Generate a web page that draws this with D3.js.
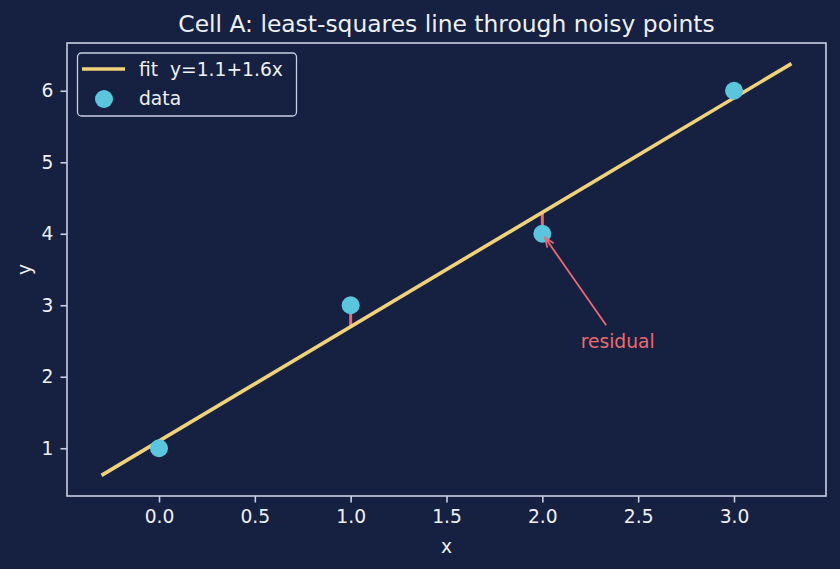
<!DOCTYPE html>
<html>
<head>
<meta charset="utf-8">
<script src="https://cdn.jsdelivr.net/npm/d3@7"></script>
<style>
  html, body { margin: 0; padding: 0; background: #162040; }
  svg { display: block; }
  text { font-family: "DejaVu Sans", sans-serif; }
</style>
</head>
<body>
<svg id="chart" width="840" height="569"></svg>
<script>
// data
const xs = [0, 1, 2, 3]
const ys = [1, 3, 4, 6]
const fitEnds = [-0.3, 3.3]
const xTicks = [0.0, 0.5, 1.0, 1.5, 2.0, 2.5, 3.0]
const yTicks = [1, 2, 3, 4, 5, 6]
const annotPoint = [2, 4]
const annotText = [2.2, 2.4]

const bg = '#162040', fg = '#eef1f8', spine = '#c9cfe3'
const yellow = '#f0d27a', cyan = '#5bc5de', red = '#ea6a72'
const fs = 18.7

// least squares
const mx = d3.mean(xs), my = d3.mean(ys)
const slope = d3.sum(xs, (x, i) => (x - mx) * (ys[i] - my)) / d3.sum(xs, x => (x - mx) ** 2)
const icpt = my - slope * mx
const f = x => icpt + slope * x

const svg = d3.select('#chart')
svg.append('rect').attr('width', 840).attr('height', 569).attr('fill', bg)

const pL = 67, pR = 826, pT = 43, pB = 496
const x = d3.scaleLinear().domain([-0.48, 3.48]).range([pL, pR])
const y = d3.scaleLinear().domain([0.332, 6.668]).range([pB, pT])

// axes
let gx = svg.append('g')
    .attr('transform', `translate(0,${pB})`)
    .call(d3.axisBottom(x).tickValues(xTicks).tickFormat(d3.format('.1f'))
        .tickSize(6.5).tickPadding(7.5).tickSizeOuter(0))
let gy = svg.append('g')
    .attr('transform', `translate(${pL},0)`)
    .call(d3.axisLeft(y).tickValues(yTicks).tickFormat(d3.format('d'))
        .tickSize(6.5).tickPadding(7).tickSizeOuter(0))
for (const g of [gx, gy]) {
    g.select('.domain').remove()
    g.selectAll('line').attr('stroke', spine).attr('stroke-width', 1.6)
    g.selectAll('text').attr('fill', fg).style('font-size', fs + 'px')
        .style('font-family', '"DejaVu Sans", sans-serif')
}

svg.append('rect')
    .attr('x', pL).attr('y', pT)
    .attr('width', pR - pL).attr('height', pB - pT)
    .attr('fill', 'none').attr('stroke', spine).attr('stroke-width', 1.6)

svg.append('text').attr('x', (pL + pR) / 2).attr('y', 553)
    .attr('text-anchor', 'middle').attr('fill', fg).style('font-size', fs + 'px').text('x')
svg.append('text').attr('transform', `translate(31,${(pT + pB) / 2}) rotate(-90)`)
    .attr('text-anchor', 'middle').attr('fill', fg).style('font-size', fs + 'px').text('y')
svg.append('text').attr('x', (pL + pR) / 2).attr('y', 32)
    .attr('text-anchor', 'middle').attr('fill', fg).style('font-size', '23.4px')
    .text('Cell A: least-squares line through noisy points')

// residuals
svg.append('g').selectAll('line').data(xs).join('line')
    .attr('x1', d => x(d)).attr('x2', d => x(d))
    .attr('y1', (d, i) => y(ys[i])).attr('y2', d => y(f(d)))
    .attr('stroke', red).attr('stroke-width', 3)

// fit line
svg.append('line')
    .attr('x1', x(fitEnds[0])).attr('y1', y(f(fitEnds[0])))
    .attr('x2', x(fitEnds[1])).attr('y2', y(f(fitEnds[1])))
    .attr('stroke', yellow).attr('stroke-width', 3.6)

// points
svg.append('g').selectAll('circle').data(xs).join('circle')
    .attr('cx', d => x(d)).attr('cy', (d, i) => y(ys[i]))
    .attr('r', 9).attr('fill', cyan)

// annotation
const lab = svg.append('text').attr('x', x(annotText[0])).attr('y', y(annotText[1]))
    .attr('fill', red).style('font-size', fs + 'px').text('residual')
const bb = lab.node().getBBox()
const cx0 = bb.x + bb.width / 2, cy0 = bb.y + bb.height / 2
const tx = x(annotPoint[0]), ty = y(annotPoint[1])
const dx = tx - cx0, dy = ty - cy0, len = Math.hypot(dx, dy)
const t0 = (cy0 - (bb.y - 6)) / -dy
const sx = cx0 + dx * t0, sy = cy0 + dy * t0
const ex = tx - dx / len * 5, ey = ty - dy / len * 5
svg.append('line').attr('x1', sx).attr('y1', sy).attr('x2', ex).attr('y2', ey)
    .attr('stroke', red).attr('stroke-width', 1.8)
const ang = Math.atan2(ey - sy, ex - sx), hl = 10, ha = 0.4
svg.append('path')
    .attr('d', `M${ex - hl * Math.cos(ang - ha)},${ey - hl * Math.sin(ang - ha)}L${ex},${ey}L${ex - hl * Math.cos(ang + ha)},${ey - hl * Math.sin(ang + ha)}`)
    .attr('fill', 'none').attr('stroke', red).attr('stroke-width', 1.8)

// legend
const lg = svg.append('g')
lg.append('rect').attr('x', 77.5).attr('y', 53).attr('width', 219).attr('height', 63)
    .attr('rx', 4).attr('fill', bg).attr('stroke', spine).attr('stroke-width', 1.3)
lg.append('line').attr('x1', 82).attr('x2', 125).attr('y1', 69).attr('y2', 69)
    .attr('stroke', yellow).attr('stroke-width', 3.6)
lg.append('circle').attr('cx', 104).attr('cy', 99).attr('r', 9).attr('fill', cyan)
lg.append('text').attr('x', 139).attr('y', 76).attr('fill', fg).style('font-size', fs + 'px')
    .attr('xml:space', 'preserve').style('white-space', 'pre').text('fit  y=1.1+1.6x')
lg.append('text').attr('x', 139).attr('y', 105).attr('fill', fg).style('font-size', fs + 'px').text('data')
</script>
</body>
</html>
